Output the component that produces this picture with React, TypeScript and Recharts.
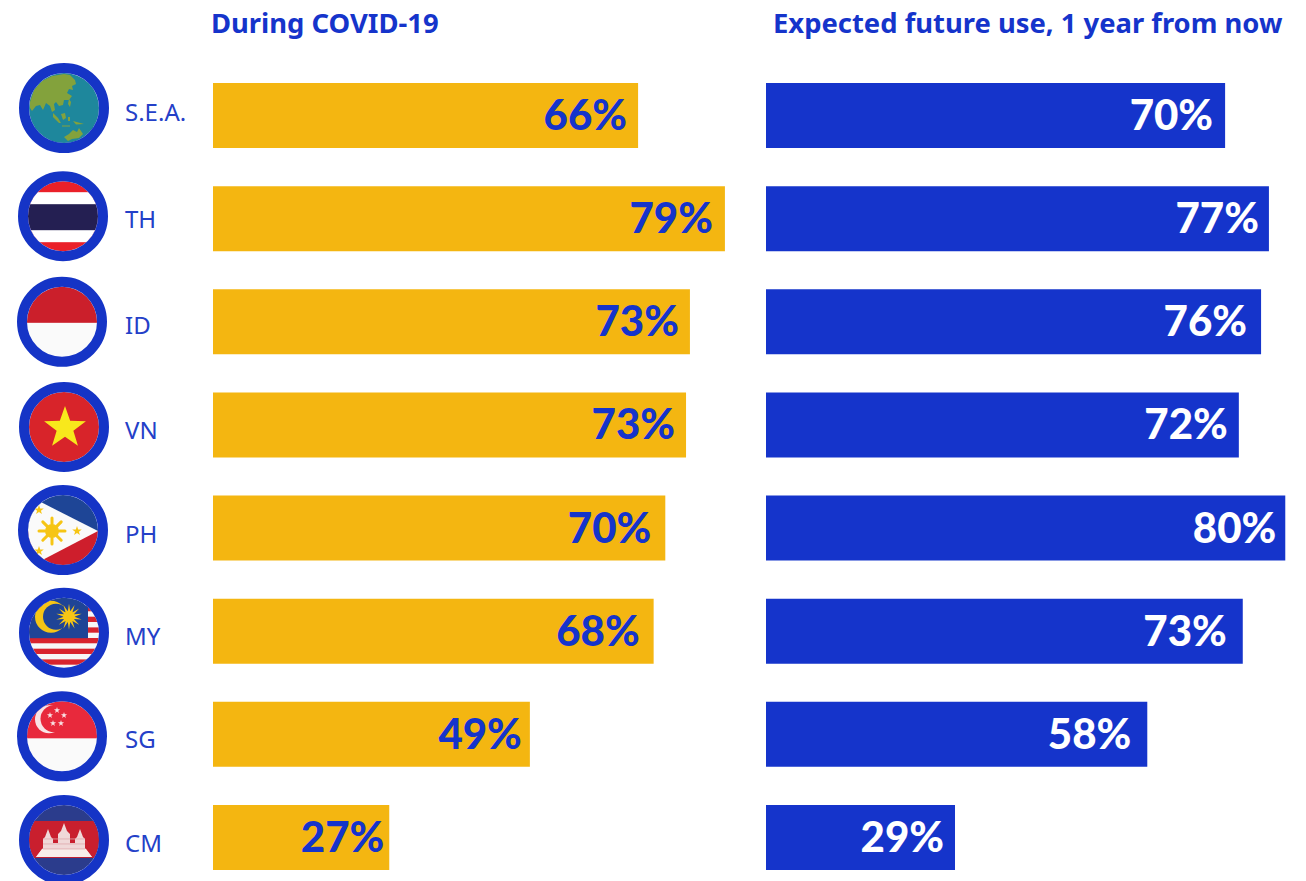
import React from 'react';
import { BarChart, Bar, XAxis, YAxis, LabelList } from 'recharts';

const codes = ['S.E.A.', 'TH', 'ID', 'VN', 'PH', 'MY', 'SG', 'CM'];
// bar lengths as measured, the printed labels round differently in places
const duringValues = [65.6, 79, 73.6, 73, 69.8, 68, 48.9, 27.2];
const futureValues = [70.2, 76.9, 75.7, 72.3, 79.4, 72.9, 58.3, 28.9];
const duringLabels = ['66%', '79%', '73%', '73%', '70%', '68%', '49%', '27%'];
const futureLabels = ['70%', '77%', '76%', '72%', '80%', '73%', '58%', '29%'];

const rows = codes.map((code, i) => ({
  code,
  during: duringValues[i],
  future: futureValues[i],
}));

const BLUE = '#1534CB';
const YELLOW = '#F4B611';
const FONT = 'Lato, sans-serif';

// the hand placed labels and badges in the original are not quite aligned
const duringGaps = [11, 12, 11, 11, 14, 14, 8, 5];
const futureGaps = [12, 10, 14, 11, 9, 16, 16, 11];
const badgeX = [64, 63, 62, 64, 63, 64, 62, 64];
const badgeDy = [-7.5, -2.5, 0, 2, 2, 1.5, 2, 2.5];
const codeDy = [-4.5, -0.5, 2.5, 4.5, 5.5, 4.5, 4.5, 5.5];

function starPath(cx: number, cy: number, r: number, points = 5, inner = 0.4) {
  const out: string[] = [];
  for (let i = 0; i < points * 2; i++) {
    const rad = i % 2 === 0 ? r : r * inner;
    const a = (Math.PI * i) / points - Math.PI / 2;
    out.push(`${(cx + rad * Math.cos(a)).toFixed(2)} ${(cy + rad * Math.sin(a)).toFixed(2)}`);
  }
  return `M${out.join('L')}Z`;
}

function Globe() {
  return (
    <g>
      <rect x={-36} y={-36} width={72} height={72} fill="#1E879C" />
      <g fill="#83A23C">
        <path d="M-34 -6L-30 -18L-22 -27L-12 -32L0 -34L6 -33L11 -28L12 -24L8 -22L9 -18L5 -19L3 -15L8 -12L5 -8L0 -8L-1 -3L-5 -2L-8 -6L-10 -4L-9 2L-12 4L-14 -2L-18 -5L-21 2L-24 -3L-28 -2L-32 3L-34 0Z" />
        <path d="M0 29L5 26L9 22L13 24L15 20L19 26L15 30L8 31L4 33Z" />
        <path d="M-11 5L-6 10L-3 15L-5 15L-11 9Z" />
        <path d="M-3 6L1 5L2 10L-1 12Z" />
        <path d="M-2 17.5L6 17.5L6 18.5L-2 18.5Z" />
        <path d="M4 9L6 9L6 13L4 13Z" />
        <path d="M9 13L20 16L12 16.5Z" />
        <path d="M5 -9L7 -6L6 -1L4 -4Z" />
      </g>
    </g>
  );
}

function Thailand() {
  return (
    <g>
      <rect x={-36} y={-36} width={72} height={72} fill="#EA2029" />
      <rect x={-36} y={-24} width={72} height={50} fill="#fff" />
      <rect x={-36} y={-12} width={72} height={26} fill="#241F52" />
    </g>
  );
}

function Indonesia() {
  return (
    <g>
      <rect x={-36} y={-36} width={72} height={72} fill="#FAFAFA" />
      <rect x={-36} y={-36} width={72} height={37} fill="#CB1F2B" />
    </g>
  );
}

function Vietnam() {
  return (
    <g>
      <rect x={-36} y={-36} width={72} height={72} fill="#D8242A" />
      <path d={starPath(1, 1, 22)} fill="#F8E81C" />
    </g>
  );
}

const sunRays = [0, 1, 2, 3, 4, 5, 6, 7];

function Philippines() {
  return (
    <g>
      <rect x={-36} y={-36} width={72} height={37} fill="#1E4596" />
      <rect x={-36} y={1} width={72} height={36} fill="#CE1E2C" />
      <path d="M-38 -36L35 1L-38 39Z" fill="#FAFAFA" />
      <g stroke="#F6C515" strokeWidth={3} strokeLinecap="round">
        {sunRays.map((i) => {
          const a = (Math.PI * i) / 4;
          return (
            <line
              key={i}
              x1={-11 + 7 * Math.cos(a)}
              y1={1 + 7 * Math.sin(a)}
              x2={-11 + 13 * Math.cos(a)}
              y2={1 + 13 * Math.sin(a)}
            />
          );
        })}
      </g>
      <circle cx={-11} cy={1} r={7} fill="#F6C515" />
      <path d={starPath(-24, -20, 5)} fill="#F6C515" />
      <path d={starPath(-24, 21, 5)} fill="#F6C515" />
      <path d={starPath(14, 1, 5)} fill="#F6C515" />
    </g>
  );
}

const malayStripes = [-26.7, -16, -5.3, 5.3, 16, 26.7];

function Malaysia() {
  return (
    <g>
      <rect x={-36} y={-36} width={72} height={72} fill="#F7F7F7" />
      {malayStripes.map((y) => (
        <rect key={y} x={-36} y={y} width={72} height={5.3} fill="#D8232E" />
      ))}
      <rect x={-36} y={-36} width={60} height={41.5} fill="#1F4496" />
      <circle cx={-13} cy={-16} r={16} fill="#F6C515" />
      <circle cx={-8} cy={-16} r={13} fill="#1F4496" />
      <circle cx={5} cy={-16} r={5.5} fill="#F6C515" />
      <path d={starPath(5, -16, 13, 14, 0.42)} fill="#F6C515" />
    </g>
  );
}

function Singapore() {
  return (
    <g>
      <rect x={-36} y={-36} width={72} height={72} fill="#FAFAFA" />
      <rect x={-36} y={-36} width={72} height={38} fill="#E8293C" />
      <circle cx={-13} cy={-17} r={14} fill="#F9E3E5" />
      <circle cx={-8} cy={-17.5} r={13.5} fill="#E8293C" />
      {[[-5, -26], [2, -21], [-1, -13], [-9, -13], [-12, -21]].map(([x, y]) => (
        <path key={`${x}${y}`} d={starPath(x, y, 3.2)} fill="#F9E3E5" />
      ))}
    </g>
  );
}

const templeBands = [-1, 4, 9];

function Cambodia() {
  return (
    <g>
      <rect x={-36} y={-36} width={72} height={72} fill="#2B3C8C" />
      <rect x={-36} y={-19} width={72} height={37} fill="#C91F2E" />
      <path
        d="M-28 17L-21 8L-21 -1L-19 -3L-16 -11L-13 -3L-11 -1L-11 3L-6 3L-6 -6L-3 -9L0 -17L3 -9L6 -6L6 3L11 3L11 -1L13 -3L16 -11L19 -3L21 -1L21 8L28 17Z"
        fill="#F0D8D8"
      />
      <path d="M-28 17L-22 9L22 9L28 17Z" fill="#F8EEEA" />
      <g stroke="#DDA9AC" strokeWidth={0.8}>
        {templeBands.map((y) => (
          <line key={y} x1={-21} x2={21} y1={y} y2={y} />
        ))}
      </g>
    </g>
  );
}

const flags = [Globe, Thailand, Indonesia, Vietnam, Philippines, Malaysia, Singapore, Cambodia];

function FlagTick({ y, index }: any) {
  const Flag = flags[index];
  return (
    <g>
      <g transform={`translate(${badgeX[index]} ${y + badgeDy[index]})`}>
        <clipPath id={`flag-${index}`}>
          <circle r={35} />
        </clipPath>
        <g clipPath={`url(#flag-${index})`}>
          <Flag />
        </g>
        <circle r={40} fill="none" stroke="#1534C6" strokeWidth={10} />
      </g>
      <text
        x={125}
        y={y + codeDy[index]}
        dominantBaseline="central"
        fontFamily="'Noto Sans', sans-serif"
        fontWeight={400}
        fontSize={24}
        fill="#2440C8"
      >
        {codes[index]}
      </text>
    </g>
  );
}

function valueLabel(labels: string[], gaps: number[], color: string) {
  return ({ x, y, width, height, index }: any) => (
    <text
      x={x + width - gaps[index]}
      y={y + height / 2 - 1.5}
      textAnchor="end"
      dominantBaseline="central"
      fontFamily={FONT}
      fontWeight={900}
      fontSize={42}
      fill={color}
    >
      {labels[index]}
    </text>
  );
}

const titleStyle: React.CSSProperties = {
  position: 'absolute',
  top: 4,
  fontFamily: "'Noto Sans', sans-serif",
  fontWeight: 700,
  fontSize: 27.4,
  color: BLUE,
  whiteSpace: 'nowrap',
};

export default function App() {
  return (
    <div
      style={{
        position: 'absolute',
        left: 0,
        top: 0,
        width: 1306,
        height: 881,
        overflow: 'hidden',
        background: '#fff',
      }}
    >
      <div style={{ ...titleStyle, left: 211 }}>During COVID-19</div>
      <div style={{ ...titleStyle, left: 773 }}>Expected future use, 1 year from now</div>

      <div style={{ position: 'absolute', left: 0, top: 0 }}>
        <BarChart
          width={732}
          height={900}
          data={rows}
          layout="vertical"
          margin={{ top: 64, right: 0.6, bottom: 11, left: 0 }}
        >
          <XAxis type="number" hide domain={[0, 80]} />
          <YAxis
            type="category"
            dataKey="code"
            width={213}
            interval={0}
            axisLine={false}
            tickLine={false}
            tick={(props: any) => <FlagTick {...props} />}
          />
          <Bar dataKey="during" fill={YELLOW} barSize={65} isAnimationActive={false}>
            <LabelList dataKey="during" content={valueLabel(duringLabels, duringGaps, BLUE)} />
          </Bar>
        </BarChart>
      </div>

      <div style={{ position: 'absolute', left: 766, top: 0 }}>
        <BarChart
          width={530}
          height={900}
          data={rows}
          layout="vertical"
          margin={{ top: 64, right: 6.8, bottom: 11, left: 0 }}
        >
          <XAxis type="number" hide domain={[0, 80]} />
          <YAxis type="category" dataKey="code" hide />
          <Bar dataKey="future" fill={BLUE} barSize={65} isAnimationActive={false}>
            <LabelList dataKey="future" content={valueLabel(futureLabels, futureGaps, '#fff')} />
          </Bar>
        </BarChart>
      </div>
    </div>
  );
}
